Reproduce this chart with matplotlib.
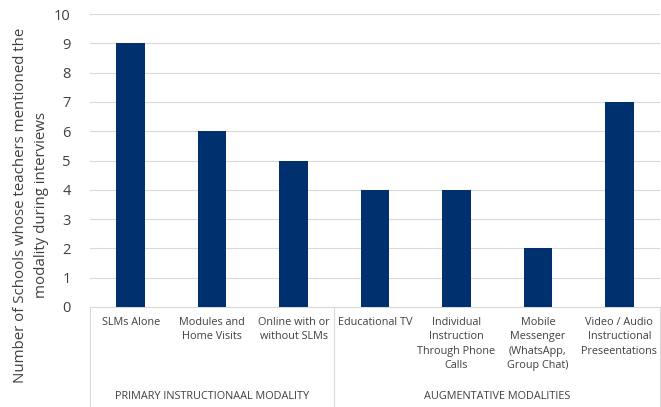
import matplotlib.pyplot as plt
import matplotlib.lines as mlines

categories = ["SLMs Alone", "Modules and\nHome Visits", "Online with or\nwithout SLMs",
              "Educational TV", "Individual\nInstruction\nThrough Phone\nCalls",
              "Mobile\nMessenger\n(WhatsApp,\nGroup Chat)",
              "Video / Audio\nInstructional\nPreseentations"]
values = [9, 6, 5, 4, 4, 2, 7]
groups = ["PRIMARY INSTRUCTIONAAL MODALITY", "AUGMENTATIVE MODALITIES"]
group_sizes = [3, 4]
yticks = list(range(0, 11))

plt.rcParams['font.family'] = ['Open Sans', 'DejaVu Sans']

fig = plt.figure(figsize=(6.61, 4.07), dpi=100)
ax = fig.add_axes([90/661, 1-307/407, 570/661, 293/407])

x = list(range(len(categories)))
ax.bar(x, values, width=0.35, color='#00306E', zorder=3)
ax.set_xlim(-0.5, len(categories) - 0.5)
ax.set_ylim(0, 10)
ax.set_yticks(yticks)
ax.tick_params(axis='y', length=0, labelsize=10.5, labelcolor='#404040', pad=14)
ax.set_xticks([])
ax.grid(axis='y', color='#d9d9d9', linewidth=0.8, zorder=0)
for s in ['top', 'right', 'left']:
    ax.spines[s].set_visible(False)
ax.spines['bottom'].set_color('#d9d9d9')

fig.text(31/661, 1-205/407,
         "Number of Schools whose teachers mentioned the\nmodality during interviews",
         rotation=90, ha='center', va='center', multialignment='center',
         fontsize=10.8, color='#404040', linespacing=1.5)

trans = ax.get_xaxis_transform()
for xi, lab in zip(x, categories):
    ax.text(xi, -0.035, lab, transform=trans, ha='center', va='top',
            fontsize=7.8, color='#404040', linespacing=1.4)

# group labels and separators
start = 0
bottom = -0.345
for g, n in zip(groups, group_sizes):
    left = start - 0.5
    right = start + n - 0.5
    ax.text((left + right) / 2, -0.305, g, transform=trans, ha='center', va='center',
            fontsize=7.8, color='#404040')
    for xv in (left, right):
        ln = mlines.Line2D([xv, xv], [0, bottom], transform=trans, color='#d9d9d9',
                           linewidth=0.8, clip_on=False)
        ax.add_line(ln)
    start += n

fig.savefig("out.png", dpi=100)
